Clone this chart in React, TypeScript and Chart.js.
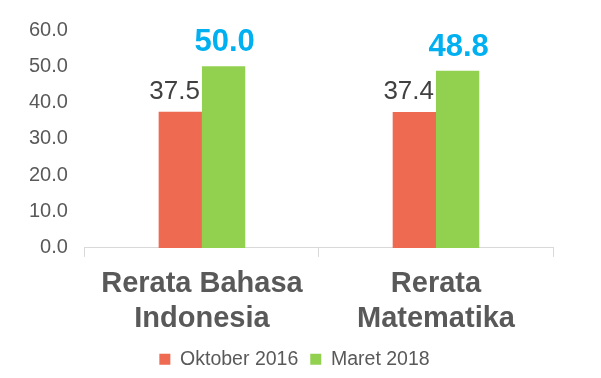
import React, { useEffect, useRef } from "react";
import { Chart, registerables } from "chart.js";

Chart.register(...registerables);

const categories: string[][] = [
  ["Rerata Bahasa", "Indonesia"],
  ["Rerata", "Matematika"],
];
const seriesNames = ["Oktober 2016", "Maret 2018"];
const oktober2016 = [37.5, 37.4];
const maret2018 = [50.0, 48.8];
const yTicks = [0, 10, 20, 30, 40, 50, 60];

const FONT = "'Liberation Sans', Arial, Helvetica, sans-serif";
const RED = "#EE6A51";
const GREEN = "#92D050";
const BLUE = "#00B0F0";
const GRAY = "#595959";

const AXIS_SHRINK = 9;
const LEGEND_SHIFT = 12;

const labelPlugin = {
  id: "barValueLabels",
  afterLayout(chart: any) {
    const x = chart.scales.x;
    if (x) x.bottom += AXIS_SHRINK + 10;
    const lg = chart.legend;
    if (lg) {
      lg.left += LEGEND_SHIFT;
      lg.right += LEGEND_SHIFT;
    }
  },
  afterDatasetsDraw(chart: any) {
    const ctx = chart.ctx;
    ctx.save();
    chart.data.datasets.forEach((ds: any, di: number) => {
      const meta = chart.getDatasetMeta(di);
      meta.data.forEach((bar: any, i: number) => {
        const v = ds.data[i];
        const text = v.toFixed(1);
        if (di === 0) {
          ctx.font = `26px ${FONT}`;
          ctx.fillStyle = "#404040";
          ctx.textAlign = "right";
          ctx.textBaseline = "alphabetic";
          ctx.fillText(text, bar.x + bar.width / 2 - 2, bar.y - 13);
        } else {
          ctx.font = `bold 31px ${FONT}`;
          ctx.fillStyle = BLUE;
          ctx.textAlign = "center";
          ctx.textBaseline = "alphabetic";
          ctx.fillText(text, bar.x + 1, bar.y - 15);
        }
      });
    });
    ctx.restore();
  },
};

export default function App() {
  const ref = useRef<HTMLCanvasElement | null>(null);
  useEffect(() => {
    if (!ref.current) return;
    const chart = new Chart(ref.current, {
      type: "bar",
      data: {
        labels: categories as any,
        datasets: [
          {
            label: seriesNames[0],
            data: oktober2016,
            backgroundColor: RED,
            borderWidth: 0,
            categoryPercentage: 0.37,
            barPercentage: 1,
          },
          {
            label: seriesNames[1],
            data: maret2018,
            backgroundColor: GREEN,
            borderWidth: 0,
            categoryPercentage: 0.37,
            barPercentage: 1,
          },
        ],
      },
      options: {
        animation: false,
        responsive: true,
        maintainAspectRatio: false,
        layout: { padding: { top: 30, left: 12, right: 48, bottom: -1 } },
        plugins: {
          tooltip: { enabled: false },
          legend: {
            position: "bottom",
            labels: {
              boxWidth: 11,
              boxHeight: 11,
              padding: 12,
              color: GRAY,
              font: { family: FONT, size: 19.5 },
            },
          },
        },
        scales: {
          x: {
            offset: true,
            afterFit: (scale: any) => {
              scale.paddingLeft = 0;
              scale.paddingRight = 0;
              scale.height -= AXIS_SHRINK;
            },
            grid: {
              display: true,
              offset: true,
              drawOnChartArea: false,
              drawTicks: true,
              tickLength: 9,
              color: "#D9D9D9",
            },
            border: { display: true, color: "#D9D9D9", width: 1 },
            ticks: {
              color: GRAY,
              padding: 10,
              maxRotation: 0,
              autoSkip: false,
              font: { family: FONT, size: 29, weight: "bold", lineHeight: 1.2 },
            },
          },
          y: {
            min: 0,
            max: 60,
            afterBuildTicks: (axis: any) => {
              axis.ticks = yTicks.map((v) => ({ value: v }));
            },
            grid: { display: false, drawTicks: false },
            border: { display: false },
            ticks: {
              color: GRAY,
              padding: 17,
              font: { family: FONT, size: 20 },
              callback: (v: any) => Number(v).toFixed(1),
            },
          },
        },
      },
      plugins: [labelPlugin],
    });
    return () => chart.destroy();
  }, []);
  return (
    <div style={{ position: "fixed", left: 0, top: 0, width: 601, height: 378, background: "#fff" }}>
      <canvas ref={ref} />
    </div>
  );
}
